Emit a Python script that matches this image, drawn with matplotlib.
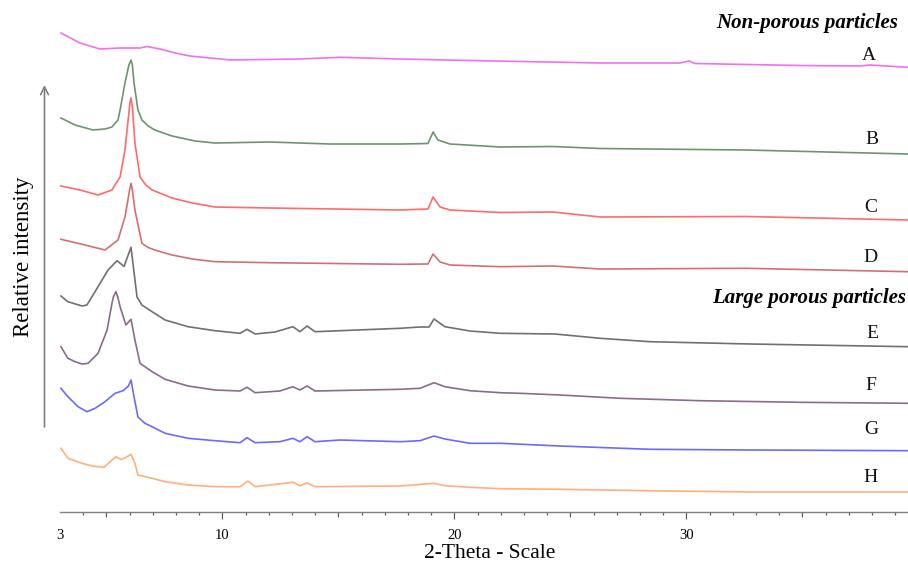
import matplotlib
matplotlib.use("Agg")
import matplotlib.pyplot as plt

plt.rcParams['font.family'] = ['Liberation Serif', 'DejaVu Serif']

# ---- data (2-theta in degrees, relative intensity incl. stacking offset) ----
labels = ['A', 'B', 'C', 'D', 'E', 'F', 'G', 'H']
colors = ['#f070f0', '#6e946e', '#ff6a6a', '#d27070', '#707070', '#8c6a8c', '#6a6aff', '#ffb07a']

x_A = [3.04, 3.86, 4.72, 5.59, 6.45, 6.75, 7.31, 7.96, 8.60, 9.47, 10.33, 13.34, 15.07, 17.66, 21.10,
       26.28, 29.72, 30.11, 30.37, 34.90, 37.48, 37.91, 39.55]
y_A = [479, 469, 463, 464, 464, 465.5, 463, 459, 456, 454, 452, 453, 454.7, 453, 451.3,
       449, 449, 451, 448.5, 446.5, 446, 447, 444.7]

x_B = [3.04, 3.65, 4.42, 4.94, 5.24, 5.50, 5.59, 5.80, 5.97, 6.06, 6.12, 6.19, 6.36, 6.53, 6.80, 7.09,
       7.45, 7.83, 8.82, 9.68, 12.05, 14.64, 17.66, 18.86, 19.08, 19.29, 19.81, 21.97, 24.25, 26.28,
       32.57, 39.55]
y_B = [394, 387, 382, 383, 385, 392, 402, 429, 447, 452, 447, 429, 402, 392, 386, 382,
       379, 376, 371, 369, 370, 368, 368, 368.5, 380, 372, 368, 365, 365.5, 363.5,
       362, 358]

x_C = [3.04, 3.86, 4.64, 5.24, 5.59, 5.80, 5.95, 6.02, 6.06, 6.12, 6.23, 6.45, 6.70, 6.97, 7.40, 7.83,
       8.70, 9.68, 12.05, 17.66, 18.86, 19.08, 19.38, 19.81, 21.97, 24.25, 26.28, 32.57, 39.55]
y_C = [326, 322, 317, 322, 335, 362, 395, 410, 414, 405, 369, 335, 327, 322, 318, 314,
       309, 305, 304, 302, 303, 315, 305, 302, 299.5, 300, 295, 295.5, 292]

x_D = [3.04, 3.90, 4.94, 5.50, 5.80, 6.00, 6.06, 6.12, 6.23, 6.53, 6.80, 7.09, 7.45, 7.83, 8.70, 9.68,
       12.05, 17.66, 18.86, 19.08, 19.38, 19.81, 21.97, 24.25, 26.28, 32.57, 39.55]
y_D = [272.7, 268, 262, 272, 295, 322, 328.7, 322, 302, 268.7, 264.5, 262, 259.5, 257, 253, 250.3,
       249.3, 247.7, 248, 258, 250, 247, 245.3, 246, 243, 243.7, 240.3]

x_E = [3.04, 3.34, 3.95, 4.16, 4.64, 5.07, 5.46, 5.76, 6.06, 6.32, 6.53, 6.97, 7.53, 8.52, 9.68,
       10.76, 11.06, 11.41, 12.27, 13.04, 13.34, 13.65, 13.99, 17.66, 18.52, 18.91, 19.12,
       19.59, 20.67, 21.97, 24.34, 26.28, 28.43, 32.74, 39.55]
y_E = [216, 210.3, 206, 207, 225.3, 242, 251.3, 245.5, 264.7, 215, 207, 200.3, 192, 185.3, 181.3,
       178.7, 182.7, 178, 180, 185.3, 180.3, 186, 180.3, 183.7, 185, 185, 193,
       185.3, 181, 178.7, 178, 173.7, 170.3, 168, 165.3]

x_F = [3.04, 3.34, 3.65, 3.95, 4.21, 4.64, 5.03, 5.24, 5.30, 5.41, 5.50, 5.59, 5.84, 6.06, 6.23,
       6.45, 6.97, 7.53, 8.52, 9.68, 10.76, 11.06, 11.41, 12.48, 13.04, 13.34, 13.65, 13.99,
       17.66, 18.52, 19.12, 19.59, 20.67, 21.97, 22.83, 24.55, 27.14, 30.59, 34.90, 39.55]
y_F = [165.3, 153.7, 150.3, 148, 148.7, 158.7, 182, 208.7, 215, 220.3, 214, 205.3, 187, 192.7, 172,
       148.7, 140.3, 132.7, 126, 122, 121, 124.7, 119.3, 121, 125.3, 122, 126, 121,
       122.7, 123.7, 129.3, 125.3, 121.3, 119.3, 118.7, 117, 113.7, 111.3, 109.7, 108.7]

x_G = [3.04, 3.34, 3.78, 4.16, 4.51, 4.94, 5.37, 5.72, 5.95, 6.06, 6.19, 6.36, 6.66, 6.97, 7.53,
       8.52, 9.68, 10.76, 11.06, 11.41, 12.48, 13.04, 13.34, 13.65, 13.99, 15.07, 17.66,
       18.52, 19.12, 19.59, 20.67, 21.97, 24.55, 28.43, 32.74, 39.55]
y_G = [123.7, 115.3, 105.3, 100.3, 103.7, 110.3, 118.7, 121.3, 126, 132, 115.3, 95, 88.7, 85.3, 78.7,
       73.7, 71.3, 69.3, 74.3, 69.3, 70.3, 73.7, 70.3, 75.3, 70.3, 72, 70.3,
       71.3, 76, 73, 68.7, 68.7, 66, 62.7, 62, 61.3]

x_H = [3.04, 3.34, 3.95, 4.38, 4.90, 5.16, 5.41, 5.63, 5.80, 6.06, 6.23, 6.36, 6.97, 7.53, 8.52,
       9.68, 10.76, 11.10, 11.41, 13.04, 13.34, 13.65, 13.99, 17.66, 19.12, 19.59, 20.67,
       21.97, 24.55, 28.43, 32.74, 39.55]
y_H = [63.7, 53.7, 48.7, 46, 44.7, 50.3, 55.3, 52.5, 54, 57.7, 48.7, 37, 33.7, 30.3, 27,
       25.3, 25.3, 31, 25.3, 29.7, 26.3, 29, 25.3, 26, 28.7, 26.3, 24.7,
       23.3, 22.7, 21.3, 20, 20]

series_x = [x_A, x_B, x_C, x_D, x_E, x_F, x_G, x_H]
series_y = [y_A, y_B, y_C, y_D, y_E, y_F, y_G, y_H]

# label positions (2-theta, intensity)
label_x = [37.85, 38.0, 37.95, 37.95, 38.0, 37.95, 37.95, 37.95]
label_y = [457, 372, 304, 255, 179, 127, 82, 34]

tick_pos = [3, 5, 10, 15, 20, 25, 30, 35]
tick_lab = ['3', '', '10', '', '20', '', '30', '']

# ---- figure ----
W, H = 908, 564
fig = plt.figure(figsize=(W / 100, H / 100), dpi=100)
ax = fig.add_axes([60 / W, 52 / H, 848 / W, 512 / H])
ax.set_xlim(3, 39.55)
ax.set_ylim(0, 512)

for xs, ys, c in zip(series_x, series_y, colors):
    ax.plot(xs, ys, color=c, lw=1.2, solid_joinstyle='round')

for lab, lx, ly in zip(labels, label_x, label_y):
    ax.text(lx, ly, lab, fontsize=14, ha='center', va='center', color='#111111')

for s in ['top', 'right', 'left']:
    ax.spines[s].set_visible(False)
ax.spines['bottom'].set_color('#808080')
ax.spines['bottom'].set_linewidth(1.0)
ax.set_yticks([])

ax.set_xticks(tick_pos)
ax.set_xticklabels(tick_lab)
ax.set_xticks([v for v in range(4, 40) if v not in tick_pos], minor=True)
ax.tick_params(axis='x', which='major', direction='out', length=5, width=0.9,
               color='#606060', labelsize=10.5, pad=7)
ax.tick_params(axis='x', which='minor', direction='out', length=2.4, width=0.9, color='#606060')
for t, v in zip(ax.xaxis.get_major_ticks(), tick_pos):
    if v == 3:
        t.tick1line.set_markersize(0)
    elif v % 10 == 5:
        t.tick1line.set_markersize(3.6)

fig.text(490 / W, 1 - 558 / H, '2-Theta - Scale', fontsize=15.5, ha='center', va='baseline')
fig.text(24 / W, 1 - 257 / H, 'Relative intensity', fontsize=16.5, ha='center', va='center',
         rotation=90)
fig.text(898 / W, 1 - 23 / H, 'Non-porous particles', fontsize=15, fontweight='bold',
         fontstyle='italic', ha='right', va='center')
fig.text(906 / W, 1 - 298 / H, 'Large porous particles', fontsize=15, fontweight='bold',
         fontstyle='italic', ha='right', va='center')

ax.annotate('', xy=(44.5, H - 85), xycoords='figure pixels',
            xytext=(44.5, H - 427), textcoords='figure pixels',
            arrowprops=dict(arrowstyle='->', color='#808080', lw=1.2, mutation_scale=14,
                            shrinkA=0, shrinkB=0))

fig.savefig('out.png', dpi=100)
